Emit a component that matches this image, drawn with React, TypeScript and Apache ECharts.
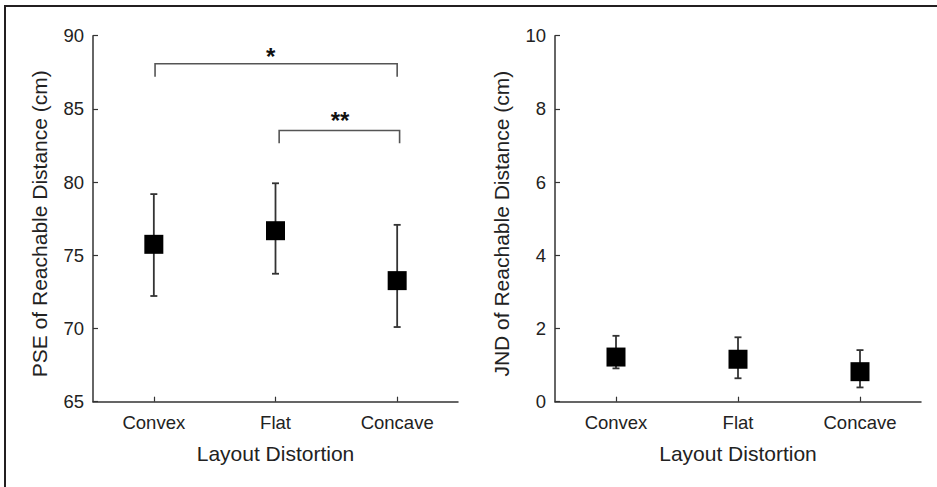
import React, { useEffect, useRef } from "react";
import * as echarts from "echarts";

const categories = ["Convex", "Flat", "Concave"];

// Left panel: PSE of Reachable Distance (cm)
const pseMean = [75.75, 76.68, 73.27];
const pseLow = [72.22, 73.74, 70.1];
const pseHigh = [79.18, 79.92, 77.08];

// Right panel: JND of Reachable Distance (cm)
const jndMean = [1.22, 1.16, 0.82];
const jndLow = [0.91, 0.64, 0.39];
const jndHigh = [1.8, 1.76, 1.41];

// Significance brackets (left panel), x in category units
const bracketStart = [0.01, 1.03];
const bracketEnd = [2.0, 2.02];
const bracketTop = [88.08, 83.52];
const bracketDrop = [87.2, 82.65];
const starX = [0.96, 1.53];
const starY = [88.6, 84.2];
const starText = ["*", "**"];

const FONT = "Liberation Sans, Arial, Helvetica, sans-serif";
const TXT = "#222";
const AX = "#333";

function App() {
  const ref = useRef<HTMLDivElement>(null);
  useEffect(() => {
    if (!ref.current) return;
    const chart = echarts.init(ref.current, undefined, { renderer: "svg" });

    const catAxis = (gridIndex: number) => ({
      type: "category",
      gridIndex,
      data: categories,
      boundaryGap: true,
      name: "Layout Distortion",
      nameLocation: "middle",
      nameGap: 52,
      nameTextStyle: { fontFamily: FONT, fontSize: 21, color: TXT, verticalAlign: "middle" },
      axisLine: { show: true, onZero: false, lineStyle: { color: AX, width: 1.5 } },
      axisTick: { show: true, alignWithLabel: true, inside: true, length: 5, lineStyle: { color: AX, width: 1.2 } },
      axisLabel: { fontFamily: FONT, fontSize: 18.5, color: TXT, margin: 11 },
      splitLine: { show: false },
    });

    const valAxis = (gridIndex: number, name: string, min: number, max: number, interval: number) => ({
      type: "value",
      gridIndex,
      min,
      max,
      interval,
      name,
      nameLocation: "middle",
      nameGap: 54,
      nameTextStyle: { fontFamily: FONT, fontSize: 21, color: TXT, verticalAlign: "middle", padding: [0, 10, 0, 0] },
      axisLine: { show: true, onZero: false, lineStyle: { color: AX, width: 1.5 } },
      axisTick: { show: true, inside: true, length: 5, lineStyle: { color: AX, width: 1.2 } },
      axisLabel: { fontFamily: FONT, fontSize: 18.5, color: TXT, margin: 9 },
      splitLine: { show: false },
    });

    const errRender = (params: any, api: any) => {
      const x = api.value(0);
      const lo = api.coord([x, api.value(1)]);
      const hi = api.coord([x, api.value(2)]);
      const w = 3.5;
      const style = { stroke: "#333", lineWidth: 1.8 };
      return {
        type: "group",
        children: [
          { type: "line", shape: { x1: lo[0], y1: lo[1], x2: hi[0], y2: hi[1] }, style },
          { type: "line", shape: { x1: lo[0] - w, y1: lo[1], x2: lo[0] + w, y2: lo[1] }, style },
          { type: "line", shape: { x1: hi[0] - w, y1: hi[1], x2: hi[0] + w, y2: hi[1] }, style },
        ],
      };
    };

    const bracketRender = (params: any, api: any) => {
      const i = params.dataIndex;
      const a = api.coord([api.value(0), api.value(2)]);
      const b = api.coord([api.value(1), api.value(2)]);
      const aD = api.coord([api.value(0), api.value(3)]);
      const bD = api.coord([api.value(1), api.value(3)]);
      const s = api.coord([starX[i], starY[i]]);
      return {
        type: "group",
        children: [
          {
            type: "polyline",
            shape: { points: [[aD[0], aD[1]], [a[0], a[1]], [b[0], b[1]], [bD[0], bD[1]]] },
            style: { stroke: "#555", lineWidth: 1.6, fill: null },
          },
          {
            type: "text",
            x: s[0],
            y: s[1],
            style: {
              text: starText[i],
              fontFamily: FONT,
              fontSize: 24,
              fontWeight: "bold",
              fill: "#111",
              align: "center",
              verticalAlign: "middle",
            },
          },
        ],
      };
    };

    chart.setOption({
      animation: false,
      backgroundColor: "#fff",
      grid: [
        { left: 93, right: 479, top: 35.7, bottom: 85.3 },
        { left: 555, right: 16, top: 35.7, bottom: 85.3 },
      ],
      xAxis: [
        catAxis(0),
        catAxis(1),
        { type: "value", gridIndex: 0, min: -0.5, max: 2.5, show: false, axisLine: { onZero: false } },
      ],
      yAxis: [
        valAxis(0, "PSE of Reachable Distance (cm)", 65, 90, 5),
        valAxis(1, "JND of Reachable Distance (cm)", 0, 10, 2),
      ],
      graphic: [
        {
          type: "polyline",
          shape: { points: [[5, 487], [5, 6], [937, 6]] },
          style: { stroke: "#231f20", lineWidth: 2, fill: null },
          z: 100,
        },
      ],
      series: [
        {
          type: "custom",
          xAxisIndex: 0,
          yAxisIndex: 0,
          renderItem: errRender,
          encode: { x: 0, y: [1, 2] },
          data: categories.map((_, i) => [i, pseLow[i], pseHigh[i]]),
          z: 2,
        },
        {
          type: "scatter",
          xAxisIndex: 0,
          yAxisIndex: 0,
          symbol: "rect",
          symbolSize: 19,
          itemStyle: { color: "#000", opacity: 1 },
          data: categories.map((_, i) => [i, pseMean[i]]),
          z: 3,
        },
        {
          type: "custom",
          xAxisIndex: 1,
          yAxisIndex: 1,
          renderItem: errRender,
          encode: { x: 0, y: [1, 2] },
          data: categories.map((_, i) => [i, jndLow[i], jndHigh[i]]),
          z: 2,
        },
        {
          type: "scatter",
          xAxisIndex: 1,
          yAxisIndex: 1,
          symbol: "rect",
          symbolSize: 19,
          itemStyle: { color: "#000", opacity: 1 },
          data: categories.map((_, i) => [i, jndMean[i]]),
          z: 3,
        },
        {
          type: "custom",
          xAxisIndex: 2,
          yAxisIndex: 0,
          renderItem: bracketRender,
          encode: { x: [0, 1], y: [2, 3] },
          data: bracketStart.map((s, i) => [s, bracketEnd[i], bracketTop[i], bracketDrop[i]]),
          z: 4,
        },
      ],
    });

    return () => chart.dispose();
  }, []);

  return (
    <div
      ref={ref}
      style={{ position: "fixed", left: 0, top: 0, width: 937, height: 487, background: "#fff" }}
    />
  );
}

export default App;
